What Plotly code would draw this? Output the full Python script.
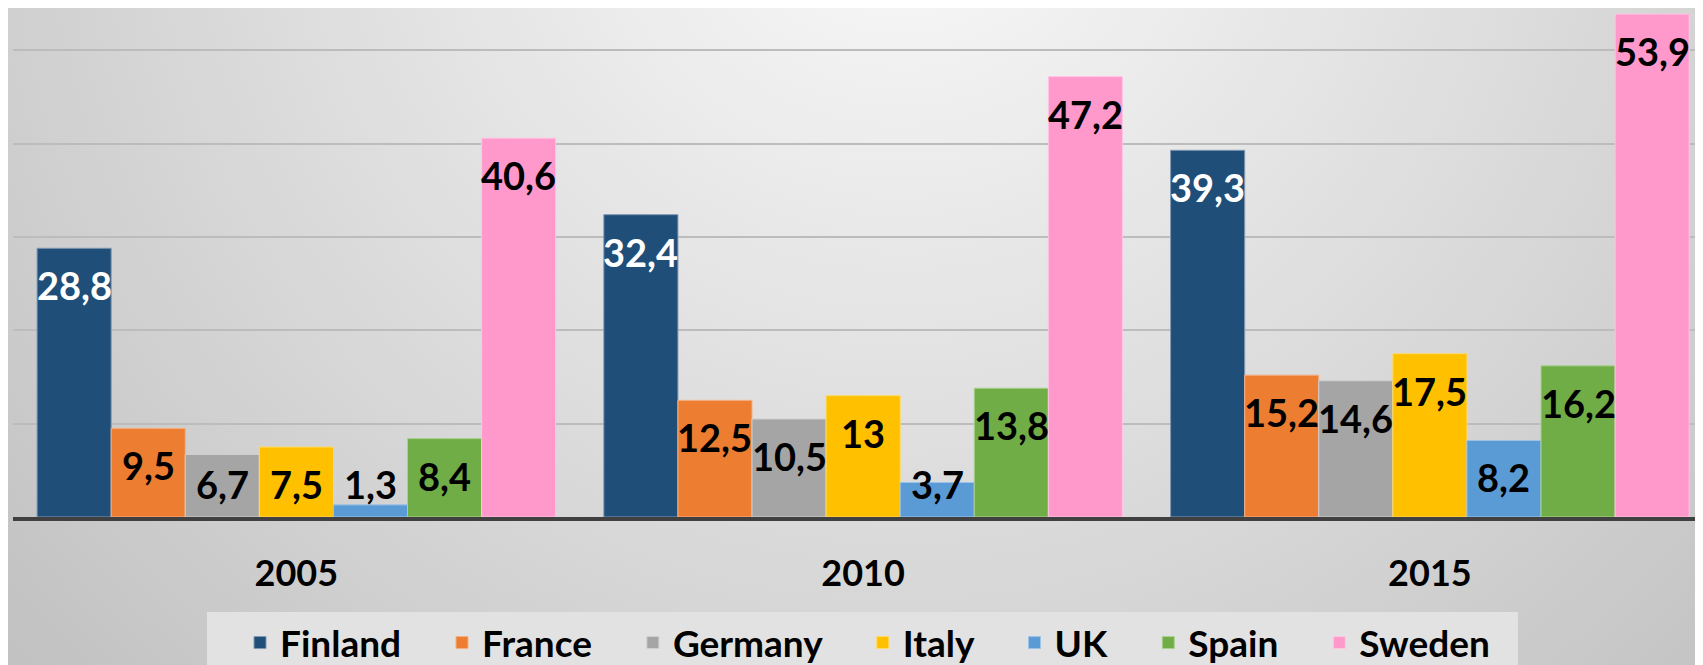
import base64
import plotly.graph_objects as go

# ---------------- data ----------------
years = ["2005", "2010", "2015"]
countries = ["Finland", "France", "Germany", "Italy", "UK", "Spain", "Sweden"]
finland = [28.8, 32.4, 39.3]
france = [9.5, 12.5, 15.2]
germany = [6.7, 10.5, 14.6]
italy = [7.5, 13.0, 17.5]
uk = [1.3, 3.7, 8.2]
spain = [8.4, 13.8, 16.2]
sweden = [40.6, 47.2, 53.9]
series = [finland, france, germany, italy, uk, spain, sweden]

# ---------------- style ----------------
colors = ["#1F4E79", "#ED7D31", "#A5A5A5", "#FFC000", "#5B9BD5", "#70AD47", "#FF99CC"]
edge_colors = ["#7f98b3", "#f4b183", "#cfcfcf", "#ffd966", "#9dc3e6", "#a9d18e", "#ffc6e2"]
label_colors = ["white", "black", "black", "black", "black", "black", "black"]
FONT = "Lato, 'Open Sans', sans-serif"
BARGAP = 0.085
LABEL_FLOOR = 7.5      # labels never sit lower than this level
LABEL_SHIFT = -12      # px offset of label below the bar top
NBSP = "\u00a0" * 4

fig = go.Figure()
for name, vals, col, ecol in zip(countries, series, colors, edge_colors):
    fig.add_trace(go.Bar(
        name=name + NBSP, x=years, y=vals,
        marker=dict(color=col, line=dict(color=ecol, width=1)),
        hoverinfo="y+name",
    ))

def fmt(v):
    return f"{v:g}".replace(".", ",")

n = len(countries)
w = (1 - BARGAP) / n
annotations = []
for ci, (vals, lc) in enumerate(zip(series, label_colors)):
    for gi, v in enumerate(vals):
        annotations.append(dict(
            x=gi + (ci - (n - 1) / 2) * w, xref="x",
            y=max(v, LABEL_FLOOR), yref="y",
            yanchor="top", xanchor="center", yshift=LABEL_SHIFT,
            text=fmt(v), showarrow=False,
            font=dict(family=FONT, size=38, color=lc, weight="bold"),
        ))

W, H = 1703, 665
ML, MR, MT, MB = 5, 0, 0, 156
pw, ph = W - ML - MR, H - MT - MB

svg = ('<svg xmlns="http://www.w3.org/2000/svg" width="1703" height="665" '
       'viewBox="0 0 1703 665" preserveAspectRatio="none"><defs>'
       '<radialGradient id="g" gradientUnits="userSpaceOnUse" cx="892" cy="-158" r="1250">'
       '<stop offset="0" stop-color="#fbfbfb"/><stop offset="1" stop-color="#bfbfbf"/>'
       '</radialGradient></defs><rect width="1703" height="665" fill="url(#g)"/></svg>')
bg_src = "data:image/svg+xml;base64," + base64.b64encode(svg.encode()).decode()

# legend panel (decoration) in paper coordinates
legend_panel = dict(
    type="rect", xref="paper", yref="paper",
    x0=(207 - 13) / pw, x1=(1518 - 13) / pw,
    y0=(517 - 612) / ph, y1=(517 - 700) / ph,
    fillcolor="#e2e2e2", line=dict(width=0), layer="below",
)

fig.update_layout(
    width=W, height=H,
    margin=dict(l=ML, r=MR, t=MT, b=MB),
    barmode="group", bargap=BARGAP, bargroupgap=0,
    paper_bgcolor="#d0d0d0", plot_bgcolor="rgba(0,0,0,0)",
    font=dict(family=FONT, color="black"),
    showlegend=True,
    legend=dict(
        orientation="h", xref="paper", yref="container",
        x=0.1337, xanchor="left", y=1 - 604 / H, yanchor="top",
        bgcolor="rgba(0,0,0,0)", borderwidth=0,
        font=dict(family=FONT, size=37, color="black", weight="bold"),
    ),
    annotations=annotations,
    shapes=[legend_panel],
    images=[dict(
        source=bg_src, xref="paper", yref="paper",
        x=-ML / pw, y=1 + MT / ph, sizex=W / pw, sizey=H / ph,
        xanchor="left", yanchor="top", sizing="stretch", layer="below",
    )],
    xaxis=dict(
        type="category", range=[-0.5, 2.496],
        showline=True, linecolor="#404040", linewidth=4,
        ticks="", ticklabelstandoff=22,
        tickfont=dict(family=FONT, size=36, color="black", weight="bold"),
        showgrid=False, fixedrange=True,
    ),
    yaxis=dict(
        range=[0, 54.55], dtick=10, showgrid=True,
        gridcolor="#bcbcbc", gridwidth=2,
        showticklabels=False, zeroline=False, showline=False, fixedrange=True,
    ),
)

fig.write_html("out.html")
